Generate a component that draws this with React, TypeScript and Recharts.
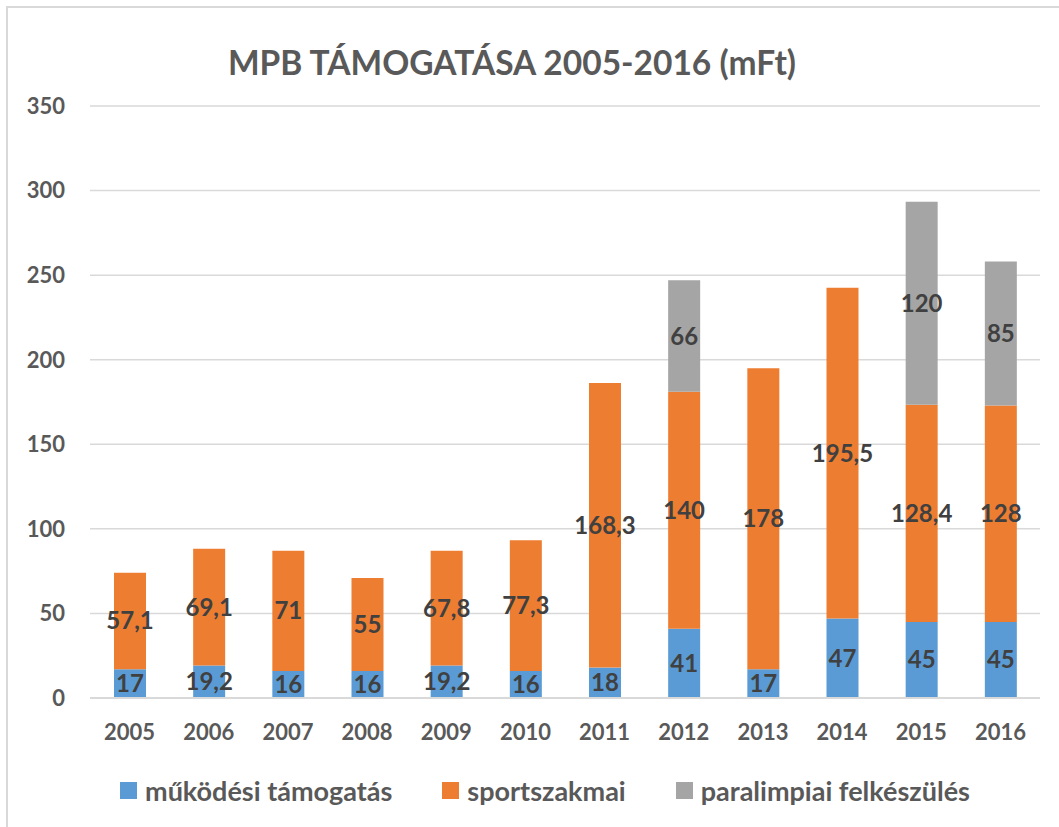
import React from 'react';
import { BarChart, Bar, XAxis, YAxis, CartesianGrid, LabelList, Legend } from 'recharts';

const years = ['2005', '2006', '2007', '2008', '2009', '2010', '2011', '2012', '2013', '2014', '2015', '2016'];
const mukodesi = [17, 19.2, 16, 16, 19.2, 16, 18, 41, 17, 47, 45, 45];
const sportszakmai = [57.1, 69.1, 71, 55, 67.8, 77.3, 168.3, 140, 178, 195.5, 128.4, 128];
const paralimpiai = [0, 0, 0, 0, 0, 0, 0, 66, 0, 0, 120, 85];
const yTicks = [0, 50, 100, 150, 200, 250, 300, 350];

const seriesNames = ['működési támogatás', 'sportszakmai', 'paralimpiai felkészülés'];
const seriesColors = ['#5B9BD5', '#ED7D31', '#A5A5A5'];

const data = years.map((y, i) => ({
  year: y,
  mukodesi: mukodesi[i],
  sportszakmai: sportszakmai[i],
  paralimpiai: paralimpiai[i],
}));

const FONT = 'Lato, "Open Sans", sans-serif';
const fmt = (v: any) => (v ? String(v).replace('.', ',') : '');
const labelStyle = { fill: '#404040', fontSize: 24, fontWeight: 700, fontFamily: FONT };

const LegendContent = () => (
  <div style={{ display: 'flex', justifyContent: 'center', alignItems: 'center', gap: 50, height: 30, fontFamily: FONT, paddingRight: 0 }}>
    {seriesNames.map((n, i) => (
      <div key={n} style={{ display: 'flex', alignItems: 'center' }}>
        <div style={{ width: 17, height: 17, background: seriesColors[i], marginRight: 8 }} />
        <span style={{ fontSize: 27, fontWeight: 700, color: '#595959' }}>{n}</span>
      </div>
    ))}
  </div>
);

export default function App() {
  return (
    <div style={{ position: 'absolute', left: 0, top: 0, width: 1059, height: 827, overflow: 'hidden', background: '#fff' }}>
      <div style={{ position: 'absolute', left: 6, top: 6, width: 1100, height: 900, border: '2px solid #D9D9D9' }} />
      <div
        style={{
          position: 'absolute', left: 0, top: 43, width: 1024, textAlign: 'center',
          fontFamily: FONT, fontSize: 33.5, fontWeight: 700, color: '#595959', lineHeight: '38px',
        }}
      >
        MPB TÁMOGATÁSA 2005-2016 (mFt)
      </div>
      <div style={{ position: 'absolute', left: 0, top: 0 }}>
        <BarChart
          width={1059}
          height={827}
          data={data}
          margin={{ top: 106, right: 19, left: 0, bottom: 59 }}
          style={{ fontFamily: FONT }}
        >
          <CartesianGrid vertical={false} stroke="#D9D9D9" strokeWidth={1.5} />
          <XAxis
            dataKey="year"
            axisLine={{ stroke: '#D9D9D9', strokeWidth: 2 }}
            tickLine={false}
            tickSize={0}
            tickMargin={26}
            height={40}
            tick={{ fill: '#595959', fontSize: 22, fontWeight: 700, fontFamily: FONT }}
          />
          <YAxis
            domain={[0, 350]}
            ticks={yTicks}
            axisLine={false}
            tickLine={false}
            tickSize={0}
            tickMargin={25}
            width={90}
            tick={{ fill: '#595959', fontSize: 22, fontWeight: 700, fontFamily: FONT }}
          />
          <Legend
            verticalAlign="bottom"
            content={LegendContent}
            wrapperStyle={{ left: 0, top: 775, width: 1090 }}
          />
          <Bar dataKey="mukodesi" name={seriesNames[0]} stackId="a" fill={seriesColors[0]} barSize={32} isAnimationActive={false}>
            <LabelList dataKey="mukodesi" position="center" formatter={fmt} style={labelStyle} />
          </Bar>
          <Bar dataKey="sportszakmai" name={seriesNames[1]} stackId="a" fill={seriesColors[1]} barSize={32} isAnimationActive={false}>
            <LabelList dataKey="sportszakmai" position="center" formatter={fmt} style={labelStyle} />
          </Bar>
          <Bar dataKey="paralimpiai" name={seriesNames[2]} stackId="a" fill={seriesColors[2]} barSize={32} isAnimationActive={false}>
            <LabelList dataKey="paralimpiai" position="center" formatter={fmt} style={labelStyle} />
          </Bar>
        </BarChart>
      </div>
    </div>
  );
}
